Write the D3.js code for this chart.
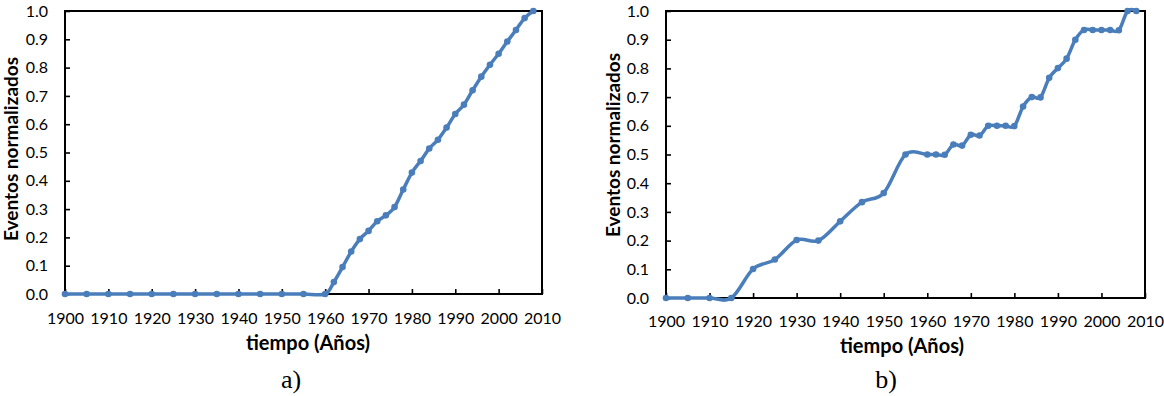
<!DOCTYPE html>
<html>
<head>
<meta charset="utf-8">
<script src="https://cdn.jsdelivr.net/npm/d3@7"></script>
<style>
  html, body { margin: 0; padding: 0; background: #fff; }
  svg { display: block; }
  .tick text { font-family: Lato, "Open Sans", sans-serif; font-size: 16px; fill: #000; }
</style>
</head>
<body>
<svg id="chart" width="1164" height="396"></svg>
<script>
// ---- data ----
const yearsA = [1900,1905,1910,1915,1920,1925,1930,1935,1940,1945,1950,1955,1960,
  1962,1964,1966,1968,1970,1972,1974,1976,1978,1980,1982,1984,1986,1988,1990,1992,1994,1996,1998,2000,2002,2004,2006,2008];
const valuesA = [0,0,0,0,0,0,0,0,0,0,0,0,0,
  0.042,0.095,0.150,0.194,0.223,0.257,0.278,0.307,0.369,0.429,0.470,0.514,0.545,0.588,0.636,0.669,0.720,0.768,0.810,0.849,0.892,0.933,0.975,1.0];

const yearsB = [1900,1905,1910,1915,1920,1925,1930,1935,1940,1945,1950,1955,
  1960,1962,1964,1966,1968,1970,1972,1974,1976,1978,1980,1982,1984,1986,1988,1990,1992,1994,1996,1998,2000,2002,2004,2006,2008];
const valuesB = [0,0,0,0,0.101,0.134,0.202,0.200,0.267,0.334,0.366,0.500,
  0.500,0.500,0.499,0.535,0.531,0.569,0.566,0.600,0.600,0.600,0.599,0.667,0.700,0.699,0.767,0.801,0.834,0.900,0.934,0.934,0.934,0.934,0.933,1.0,1.0];

const xTickValues = [1900,1910,1920,1930,1940,1950,1960,1970,1980,1990,2000,2010];
const yTickValues = [0,0.1,0.2,0.3,0.4,0.5,0.6,0.7,0.8,0.9,1.0];
const xTitle = "tiempo (Años)";
const yTitle = "Eventos normalizados";
const panelLabels = ["a)", "b)"];

// ---- drawing ----
const svg = d3.select("#chart");
svg.append("rect").attr("width", 1164).attr("height", 396).attr("fill", "#fff");

const lineColor = "#4a7ebb";

const panels = [
  { years: yearsA, values: valuesA, x0: 65, x1: 542, y0: 294, y1: 11, label: panelLabels[0],
    xPad: 19, yPad: 17, xTitleX: 308, xTitleY: 350, yTitleX: 18, yTitleY: 149, labX: 291, labY: 388 },
  { years: yearsB, values: valuesB, x0: 666, x1: 1145, y0: 298, y1: 11, label: panelLabels[1],
    xPad: 18, yPad: 17, xTitleX: 902, xTitleY: 353, yTitleX: 620, yTitleY: 145, labX: 886, labY: 388 }
];

panels.forEach(p => {
  const g = svg.append("g");
  const x = d3.scaleLinear().domain([1900, 2010]).range([p.x0, p.x1]);
  const y = d3.scaleLinear().domain([0, 1]).range([p.y0, p.y1]);

  const xAxis = d3.axisBottom(x).tickValues(xTickValues).tickFormat(d3.format("d"))
    .tickSizeInner(-5).tickSizeOuter(0).tickPadding(p.xPad);
  const yAxis = d3.axisLeft(y).tickValues(yTickValues).tickFormat(d3.format(".1f"))
    .tickSizeInner(-5).tickSizeOuter(0).tickPadding(p.yPad);

  const gx = g.append("g").attr("transform", `translate(0,${p.y0})`).call(xAxis);
  const gy = g.append("g").attr("transform", `translate(${p.x0},0)`).call(yAxis);
  [gx, gy].forEach(a => {
    a.select(".domain").remove();
    a.selectAll(".tick line").attr("stroke", "#000").attr("stroke-width", 1.6);
  });

  // frame
  g.append("rect")
    .attr("x", p.x0).attr("y", p.y1)
    .attr("width", p.x1 - p.x0).attr("height", p.y0 - p.y1)
    .attr("fill", "none").attr("stroke", "#000").attr("stroke-width", 2);

  const pts = p.years.map((yr, i) => [yr, p.values[i]]);
  const line = d3.line().x(d => x(d[0])).y(d => y(d[1])).curve(d3.curveCardinal.tension(0));
  g.append("path").attr("d", line(pts))
    .attr("fill", "none").attr("stroke", lineColor).attr("stroke-width", 3.5)
    .attr("stroke-linejoin", "round").attr("stroke-linecap", "round");
  g.selectAll("circle.pt").data(pts).join("circle").attr("class", "pt")
    .attr("cx", d => x(d[0])).attr("cy", d => y(d[1])).attr("r", 3.3)
    .attr("fill", lineColor);

  g.append("text").attr("x", p.xTitleX).attr("y", p.xTitleY)
    .attr("text-anchor", "middle")
    .attr("font-family", "Lato, 'Open Sans', sans-serif").attr("font-weight", "bold").attr("font-size", 20)
    .text(xTitle);
  g.append("text").attr("transform", `translate(${p.yTitleX},${p.yTitleY}) rotate(-90)`)
    .attr("text-anchor", "middle")
    .attr("font-family", "Lato, 'Open Sans', sans-serif").attr("font-weight", "bold").attr("font-size", 19)
    .text(yTitle);
  g.append("text").attr("x", p.labX).attr("y", p.labY)
    .attr("text-anchor", "middle")
    .attr("font-family", "'Liberation Serif', 'DejaVu Serif', serif").attr("font-size", 26)
    .text(p.label);
});
</script>
</body>
</html>
